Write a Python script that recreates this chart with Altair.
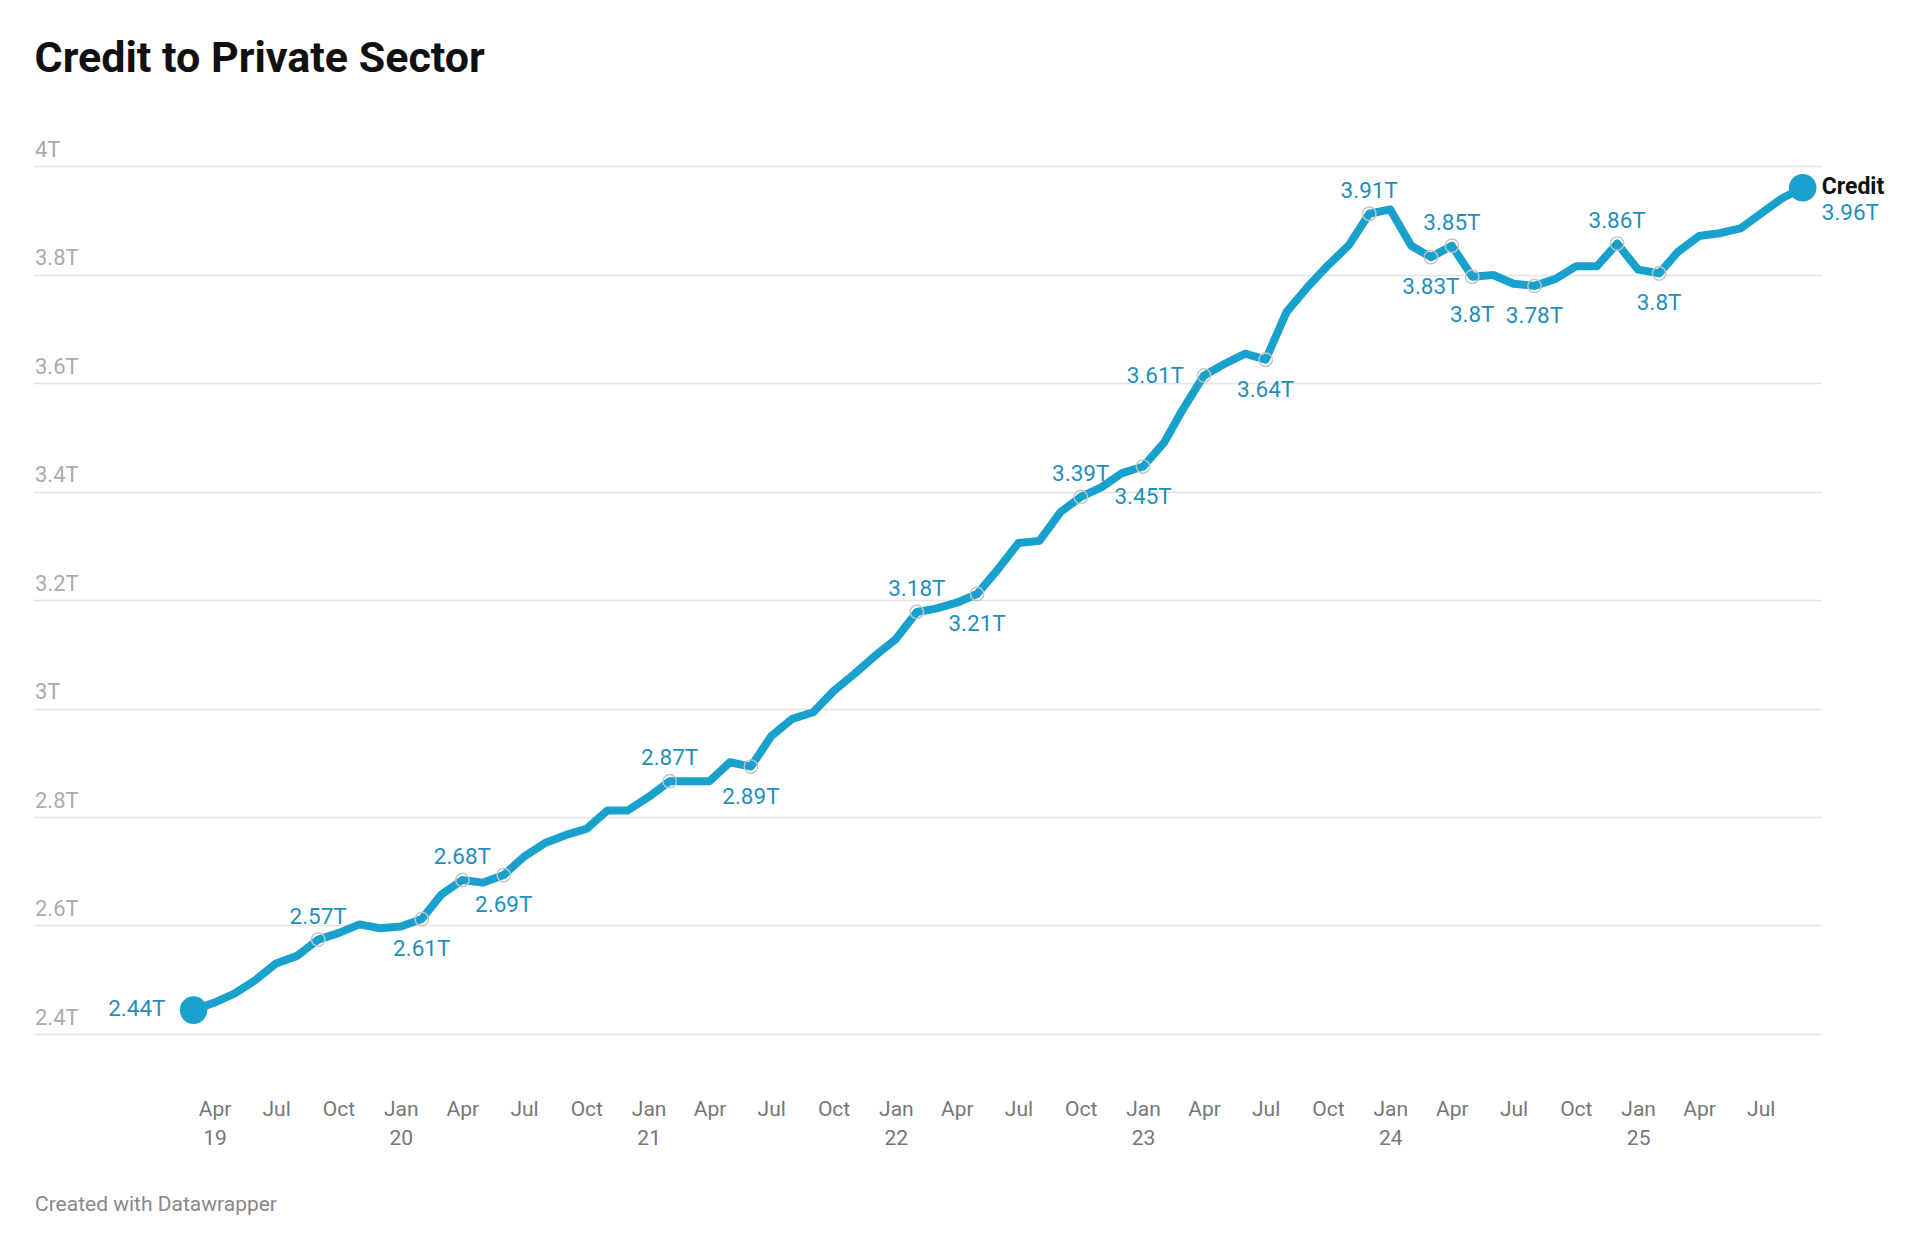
import altair as alt
import pandas as pd

# ---------------- data ----------------
series_name = "Credit"
months = [d.strftime("%Y-%m-%d") for d in pd.date_range("2019-03-01", "2025-09-01", freq="MS")]
credit = [
    2.444, 2.458, 2.475, 2.500, 2.530, 2.544, 2.574, 2.586, 2.602, 2.595,
    2.598, 2.612, 2.657, 2.684, 2.679, 2.693, 2.727, 2.752, 2.767, 2.778,
    2.812, 2.812, 2.837, 2.866, 2.866, 2.866, 2.901, 2.893, 2.949, 2.981,
    2.993, 3.032, 3.064, 3.097, 3.128, 3.178, 3.184, 3.195, 3.211, 3.257,
    3.305, 3.309, 3.362, 3.390, 3.408, 3.434, 3.446, 3.490, 3.552, 3.614,
    3.635, 3.654, 3.643, 3.731, 3.777, 3.817, 3.854, 3.912, 3.920, 3.853,
    3.832, 3.853, 3.796, 3.799, 3.783, 3.779, 3.792, 3.815, 3.815, 3.857,
    3.809, 3.802, 3.842, 3.871, 3.876, 3.885, 3.912, 3.940, 3.960,
]
labels_above = ["2019-09-01", "2020-04-01", "2021-02-01", "2022-02-01",
                "2022-10-01", "2023-12-01", "2024-04-01", "2024-12-01"]
labels_below = ["2020-02-01", "2020-06-01", "2021-06-01", "2022-05-01",
                "2023-01-01", "2023-07-01", "2024-03-01",
                "2024-08-01", "2025-02-01"]
labels_below_far = ["2024-05-01"]
labels_left = ["2023-04-01"]
x_ticks = [d.strftime("%Y-%m-%d") for d in pd.date_range("2019-04-01", "2025-07-01", freq="3MS")]
y_ticks = [2.4, 2.6, 2.8, 3.0, 3.2, 3.4, 3.6, 3.8, 4.0]
x_domain = ["2018-07-07", "2025-09-28"]
y_domain = [2.4, 4.0]

title_text = "Credit to Private Sector"
footer_text = "Created with Datawrapper"

# ---------------- table ----------------
def ms(s):
    return int(pd.Timestamp(s, tz="UTC").timestamp() * 1000)

def pos_of(i, d):
    if i == 0:
        return "start"
    if i == len(months) - 1:
        return "end"
    if d in labels_above:
        return "above"
    if d in labels_below:
        return "below"
    if d in labels_below_far:
        return "below_far"
    if d in labels_left:
        return "left"
    return ""

df = pd.DataFrame({
    "date": months,
    "value": credit,
    "pos": [pos_of(i, d) for i, d in enumerate(months)],
    "series": series_name,
})

first_tick = pd.Timestamp(x_ticks[0])
LINE = "#18a1cd"
LABEL = "#1f8fba"
FONT = "Roboto"

x_enc = alt.X(
    "date:T",
    scale=alt.Scale(type="utc", domain=[ms(x_domain[0]), ms(x_domain[1])]),
    axis=alt.Axis(
        values=[ms(t) for t in x_ticks],
        labelExpr=("[utcFormat(datum.value, '%b'), (utcmonth(datum.value) == 0 || "
                   f"(utcyear(datum.value) == {first_tick.year} && utcmonth(datum.value) == {first_tick.month - 1}))"
                   " ? utcFormat(datum.value, '%y') : '']"),
        domain=False, ticks=False, tickSize=0, grid=False,
        labelPadding=64, labelBaseline="top", labelLineHeight=29,
        labelFont=FONT, labelFontSize=21, labelColor="#777777",
        labelFlush=False, labelOverlap=False,
        title=footer_text, titleX=1.5, titleY=176, titleAlign="left",
        titleAnchor="start", titleBaseline="alphabetic", titleFont=FONT,
        titleFontSize=21, titleFontWeight="normal", titleColor="#888888",
    ),
)
y_enc = alt.Y(
    "value:Q",
    scale=alt.Scale(domain=y_domain, nice=False, zero=False),
    axis=alt.Axis(
        values=y_ticks,
        labelExpr="format(datum.value, '.1~f') + 'T'",
        domain=False, ticks=False, tickSize=0, grid=True,
        gridColor="#e4e4e4", gridWidth=1.5,
        labelAlign="left", labelPadding=-1.5, labelBaseline="alphabetic",
        labelOffset=-10, labelFont=FONT, labelFontSize=22, labelColor="#ababab",
        labelFlush=False, labelOverlap=False, title=None,
    ),
)

base = alt.Chart(df).encode(x=x_enc, y=y_enc).transform_calculate(
    label="format(datum.value, '.2~f') + 'T'"
)

line = base.mark_line(color=LINE, strokeWidth=8, strokeJoin="round", strokeCap="round")

rings = base.mark_point(shape="circle", size=180, filled=False, stroke="#c4c4c4",
                        strokeWidth=1.4, opacity=1).transform_filter(
    "indexof(['above', 'below', 'below_far', 'left'], datum.pos) >= 0")

dots = base.mark_circle(size=760, color=LINE, opacity=1).transform_filter(
    "datum.pos == 'start' || datum.pos == 'end'")

txt = dict(font=FONT, fontSize=22.5, color=LABEL)
above = base.mark_text(align="center", baseline="alphabetic", dy=-16, **txt).encode(
    text="label:N").transform_filter("datum.pos == 'above'")
below = base.mark_text(align="center", baseline="alphabetic", dy=37, **txt).encode(
    text="label:N").transform_filter("datum.pos == 'below'")
below_far = base.mark_text(align="center", baseline="alphabetic", dy=45, **txt).encode(
    text="label:N").transform_filter("datum.pos == 'below_far'")
left = base.mark_text(align="right", baseline="alphabetic", dx=-20, dy=8, **txt).encode(
    text="label:N").transform_filter("datum.pos == 'left'")
start = base.mark_text(align="right", baseline="alphabetic", dx=-28, dy=6, **txt).encode(
    text="label:N").transform_filter("datum.pos == 'start'")
end_val = base.mark_text(align="left", baseline="alphabetic", dx=19, dy=32, **txt).encode(
    text="label:N").transform_filter("datum.pos == 'end'")
end_name = base.mark_text(align="left", baseline="alphabetic", dx=19, dy=6, font=FONT,
                          fontSize=23, fontWeight="bold", color="#111111").encode(
    text="series:N").transform_filter("datum.pos == 'end'")

chart = alt.layer(line, rings, dots, above, below, below_far, left, start, end_val,
                  end_name).properties(
    width=1788,
    height=868,
    title=alt.TitleParams(title_text, anchor="start", font=FONT, fontSize=43,
                          fontWeight="bold", color="#111111", offset=57, dx=1.5),
    autosize=alt.AutoSizeParams(type="none"),
    padding={"left": 25, "top": 158, "right": 85, "bottom": 195},
    background="white",
).configure_view(stroke=None)

chart.save("out.html", embed_options={"renderer": "svg", "actions": False})
